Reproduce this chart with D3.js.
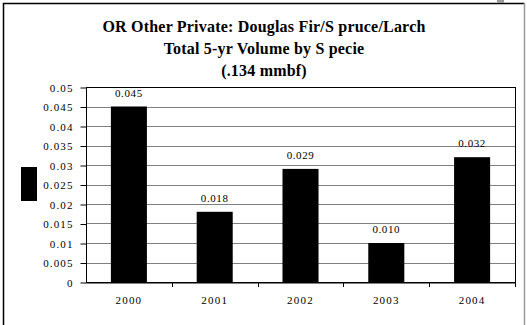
<!DOCTYPE html>
<html>
<head>
<meta charset="utf-8">
<script src="https://cdn.jsdelivr.net/npm/d3@7"></script>
<style>
  html, body { margin: 0; padding: 0; background: #fff; }
  svg { display: block; }
</style>
</head>
<body>
<svg id="chart" width="527" height="325"></svg>
<script>
// Yearly volume, Douglas Fir / Spruce / Larch (mmbf)
const years = ["2000", "2001", "2002", "2003", "2004"];
const volumes = [0.045, 0.018, 0.029, 0.010, 0.032];
const valueLabels = ["0.045", "0.018", "0.029", "0.010", "0.032"];
const yTicks = [0, 0.005, 0.01, 0.015, 0.02, 0.025, 0.03, 0.035, 0.04, 0.045, 0.05];
const titleLines = [
  "OR Other Private: Douglas Fir/S pruce/Larch",
  "Total 5-yr Volume by S pecie",
  "(.134 mmbf)"
];

const FONT = "Liberation Serif, Times New Roman, serif";
const svg = d3.select("#chart");
const W = 527, H = 325;
const plot = { left: 86, right: 515, top: 87, bottom: 282 };

// Outer frame (left, top, right edges)
svg.append("path")
  .attr("d", `M3.5,${H} V3.5 H524.5`)
  .attr("fill", "none").attr("stroke", "#000").attr("stroke-width", 1.5);
svg.append("line")
  .attr("x1", 524.5).attr("x2", 524.5).attr("y1", 3).attr("y2", H)
  .attr("stroke", "#999").attr("stroke-width", 1.5);
svg.append("rect")
  .attr("x", 497).attr("y", 0).attr("width", 7).attr("height", 3)
  .attr("fill", "#999");

// Title
svg.append("g").selectAll("text").data(titleLines).join("text")
  .attr("x", W / 2 + 0.5)
  .attr("y", (d, i) => 31.5 + i * 22)
  .attr("text-anchor", "middle")
  .attr("font-family", FONT)
  .attr("font-size", 16)
  .attr("font-weight", "bold")
  .attr("letter-spacing", 0.2)
  .text(d => d);

const x = d3.scaleBand().domain(years).range([plot.left, plot.right]).paddingInner(0.58).paddingOuter(0.29);
const xOuter = d3.scaleBand().domain(years).range([plot.left, plot.right]);
const y = d3.scaleLinear().domain([0, 0.05]).range([plot.bottom, plot.top]);

// Horizontal gridlines
svg.append("g").selectAll("line").data(yTicks.filter(t => t > 0 && t < 0.05)).join("line")
  .attr("x1", plot.left).attr("x2", plot.right)
  .attr("y1", d => Math.round(y(d)) + 0.5).attr("y2", d => Math.round(y(d)) + 0.5)
  .attr("stroke", "#808080").attr("stroke-width", 1);

// Plot border
svg.append("rect")
  .attr("x", plot.left + 0.5).attr("y", plot.top + 0.5)
  .attr("width", plot.right - plot.left).attr("height", plot.bottom - plot.top)
  .attr("fill", "none").attr("stroke", "#000").attr("stroke-width", 1);

// Bars
svg.append("g").selectAll("rect").data(volumes).join("rect")
  .attr("x", (d, i) => x(years[i]))
  .attr("width", x.bandwidth())
  .attr("y", d => y(d))
  .attr("height", d => y(0) - y(d))
  .attr("fill", "#000");

// Value labels
svg.append("g").selectAll("text").data(volumes).join("text")
  .attr("x", (d, i) => x(years[i]) + x.bandwidth() / 2)
  .attr("y", d => y(d) - 10)
  .attr("text-anchor", "middle")
  .attr("font-family", FONT)
  .attr("font-size", 11)
  .attr("letter-spacing", 0.6)
  .text((d, i) => valueLabels[i]);

// Y axis
const yAxis = d3.axisLeft(y).tickValues(yTicks).tickSize(6).tickPadding(7)
  .tickFormat(d => d === 0 ? "0" : String(+d.toFixed(3)));
const gy = svg.append("g").attr("transform", `translate(${plot.left + 0.5},0.5)`).call(yAxis);
gy.select(".domain").remove();
gy.selectAll("line").attr("stroke", "#000");
gy.selectAll("text").attr("font-size", 11).attr("font-family", FONT)
  .attr("letter-spacing", 1.1).attr("fill", "#000");

// X axis
const xAxis = d3.axisBottom(xOuter).tickSize(0).tickPadding(14);
const gx = svg.append("g").attr("transform", `translate(0,${plot.bottom + 0.5})`).call(xAxis);
gx.select(".domain").attr("stroke", "#000");
gx.selectAll("text").attr("font-size", 11).attr("font-family", FONT)
  .attr("letter-spacing", 1.2).attr("fill", "#000");
// Category separator ticks
svg.append("g").selectAll("line").data(years.slice(1).concat(["end"])).join("line")
  .attr("x1", (d, i) => Math.round(plot.left + (i + 1) * xOuter.bandwidth()) + 0.5)
  .attr("x2", (d, i) => Math.round(plot.left + (i + 1) * xOuter.bandwidth()) + 0.5)
  .attr("y1", plot.bottom).attr("y2", plot.bottom + 5)
  .attr("stroke", "#000");

// Legend swatch
svg.append("rect").attr("x", 21).attr("y", 167).attr("width", 16).attr("height", 34).attr("fill", "#000");
</script>
</body>
</html>
